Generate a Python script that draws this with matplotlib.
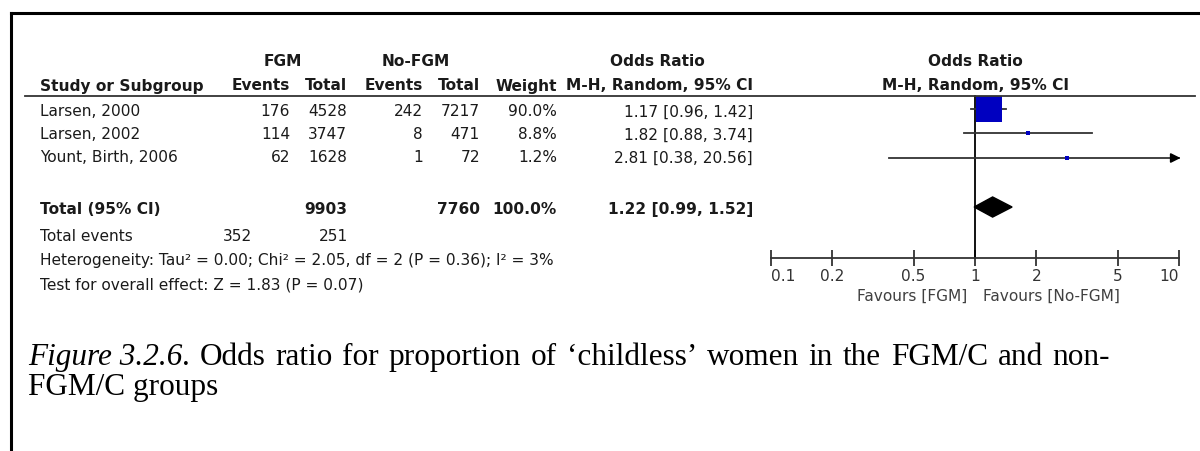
import numpy as np
import matplotlib
matplotlib.use('Agg')
import matplotlib.pyplot as plt
from matplotlib.patches import Polygon

# data
studies = ['Larsen, 2000', 'Larsen, 2002', 'Yount, Birth, 2006']
fgm_events = [176, 114, 62]
fgm_total = [4528, 3747, 1628]
nofgm_events = [242, 8, 1]
nofgm_total = [7217, 471, 72]
weights = [90.0, 8.8, 1.2]
or_est = [1.17, 1.82, 2.81]
ci_lo = [0.96, 0.88, 0.38]
ci_hi = [1.42, 3.74, 20.56]

tot_fgm = 9903
tot_nofgm = 7760
tot_ev_fgm = 352
tot_ev_nofgm = 251
tot_or = 1.22
tot_lo = 0.99
tot_hi = 1.52

ticks = [0.1, 0.2, 0.5, 1, 2, 5, 10]
tick_labels = ['0.1', '0.2', '0.5', '1', '2', '5', '10']

caption_1 = ". Odds ratio for proportion of \u2018childless\u2019 women in the FGM/C and non-"
caption_2 = 'FGM/C groups'

W, H = 1200, 452
fig = plt.figure(figsize=(12, 4.52), dpi=100)
fs = 11.1
TXT = '#1a1a1a'
SANS = 'DejaVu Sans'

def px(x, y):
    return x / W, 1 - y / H

def put(x, y, s, ha='left', bold=False, **kw):
    return fig.text(*px(x, y), s, ha=ha, va='center', fontsize=kw.pop('size', fs),
                    fontweight='bold' if bold else 'normal', family=kw.pop('family', SANS),
                    color=kw.pop('color', TXT), **kw)

# frame lines (top + left)
fig.add_artist(plt.Line2D([11 / W, 1], [1 - 14 / H] * 2, color='black', lw=2.2))
fig.add_artist(plt.Line2D([11 / W] * 2, [1 - 14 / H, 0], color='black', lw=2.2))
# header rule
fig.add_artist(plt.Line2D([25 / W, 1195 / W], [1 - 97 / H] * 2, color='#333333', lw=1.3))

# column right edges
c_ev1, c_t1, c_ev2, c_t2, c_w, c_or = 290, 347, 423, 480, 557, 753

put(283, 61, 'FGM', ha='center', bold=True)
put(416, 61, 'No-FGM', ha='center', bold=True)
put(657, 61, 'Odds Ratio', ha='center', bold=True)
put(975, 61, 'Odds Ratio', ha='center', bold=True)
put(40, 86, 'Study or Subgroup', bold=True)
put(c_ev1, 86, 'Events', ha='right', bold=True)
put(c_t1, 86, 'Total', ha='right', bold=True)
put(c_ev2, 86, 'Events', ha='right', bold=True)
put(c_t2, 86, 'Total', ha='right', bold=True)
put(c_w, 86, 'Weight', ha='right', bold=True)
put(c_or, 86, 'M-H, Random, 95% CI', ha='right', bold=True)
put(975, 86, 'M-H, Random, 95% CI', ha='center', bold=True)

row_y = [112, 135, 158]
for i, s in enumerate(studies):
    y = row_y[i]
    put(40, y, s)
    put(c_ev1, y, str(fgm_events[i]), ha='right')
    put(c_t1, y, str(fgm_total[i]), ha='right')
    put(c_ev2, y, str(nofgm_events[i]), ha='right')
    put(c_t2, y, str(nofgm_total[i]), ha='right')
    put(c_w, y, '%.1f%%' % weights[i], ha='right')
    put(c_or, y, '%.2f [%.2f, %.2f]' % (or_est[i], ci_lo[i], ci_hi[i]), ha='right')

put(40, 210, 'Total (95% CI)', bold=True)
put(c_t1, 210, str(tot_fgm), ha='right', bold=True)
put(c_t2, 210, str(tot_nofgm), ha='right', bold=True)
put(c_w, 210, '100.0%', ha='right', bold=True)
put(c_or, 210, '%.2f [%.2f, %.2f]' % (tot_or, tot_lo, tot_hi), ha='right', bold=True)
put(40, 237, 'Total events')
put(252, 237, str(tot_ev_fgm), ha='right')
put(348, 237, str(tot_ev_nofgm), ha='right')
put(40, 261, 'Heterogeneity: Tau² = 0.00; Chi² = 2.05, df = 2 (P = 0.36); I² = 3%')
put(40, 285, 'Test for overall effect: Z = 1.83 (P = 0.07)')

# forest plot axes: x 771..1179 px, y 97..259 px
ax = fig.add_axes([771 / W, 1 - 259 / H, (1179 - 771) / W, (259 - 97) / H])
ax.set_xscale('log')
ax.set_xlim(0.1, 10)
ax.set_ylim(6.08, -0.53)
ax.patch.set_alpha(0)
for sp in ['top', 'right', 'left']:
    ax.spines[sp].set_visible(False)
ax.spines['bottom'].set_color('#333333')
ax.spines['bottom'].set_linewidth(1.3)
ax.set_yticks([])
ax.set_xticks(ticks)
ax.set_xticklabels(tick_labels, fontsize=fs, family=SANS, color='#333333')
ax.xaxis.set_minor_locator(matplotlib.ticker.NullLocator())
ax.tick_params(axis='x', direction='inout', length=11, width=1.3, color='#333333', pad=2)
lbls = ax.get_xticklabels()
lbls[0].set_ha('left')
lbls[-1].set_ha('right')
ax.axvline(1, color='black', lw=1.3, clip_on=False)

sq_size = [18.5, 3.2, 2.5]
rows = [0, 1, 2]
for i in range(len(studies)):
    hi = min(ci_hi[i], 10)
    ax.plot([ci_lo[i], hi], [rows[i], rows[i]], color='#333333', lw=1.3, clip_on=False)
    ax.plot([or_est[i]], [rows[i]], marker='s', ms=sq_size[i], color='#0000c0',
            mec='#0000c0', mew=0, ls='none', clip_on=False, zorder=3)
    if ci_hi[i] > 10:
        ax.annotate('', xy=(10.5, rows[i]), xytext=(9, rows[i]),
                    arrowprops=dict(arrowstyle='-|>', color='black', lw=1.3,
                                    mutation_scale=14), annotation_clip=False)

h = 0.41
ax.add_patch(Polygon([(tot_lo, 4), (tot_or, 4 - h), (tot_hi, 4), (tot_or, 4 + h)],
                     closed=True, color='black', zorder=3))

put(967, 296, 'Favours [FGM]', ha='right', color='#404040')
put(983, 296, 'Favours [No-FGM]', ha='left', color='#404040')

# caption, first line justified to the right edge like the Word original
cfs = 22.5
SERIF = 'Liberation Serif'
cap_y1, cap_y2 = 358, 388
x_left, x_right = 28, 1110
renderer = fig.canvas.get_renderer()

first = put(x_left, cap_y1, 'Figure 3.2.6', size=cfs, family=SERIF, color='black', style='italic')
w_first = first.get_window_extent(renderer).width
parts = []
for wd in caption_1.split(' '):
    tt = put(0, cap_y1, wd, size=cfs, family=SERIF, color='black')
    parts.append((tt, tt.get_window_extent(renderer).width))
used = w_first + sum(w for _, w in parts)
gap = (x_right - x_left - used) / (len(parts) - 1)
x = x_left + w_first
for tt, w in parts:
    tt.set_position(px(x, cap_y1))
    x += w + gap
put(x_left, cap_y2, caption_2, size=cfs, family=SERIF, color='black')

plt.savefig('out.png', dpi=100)
